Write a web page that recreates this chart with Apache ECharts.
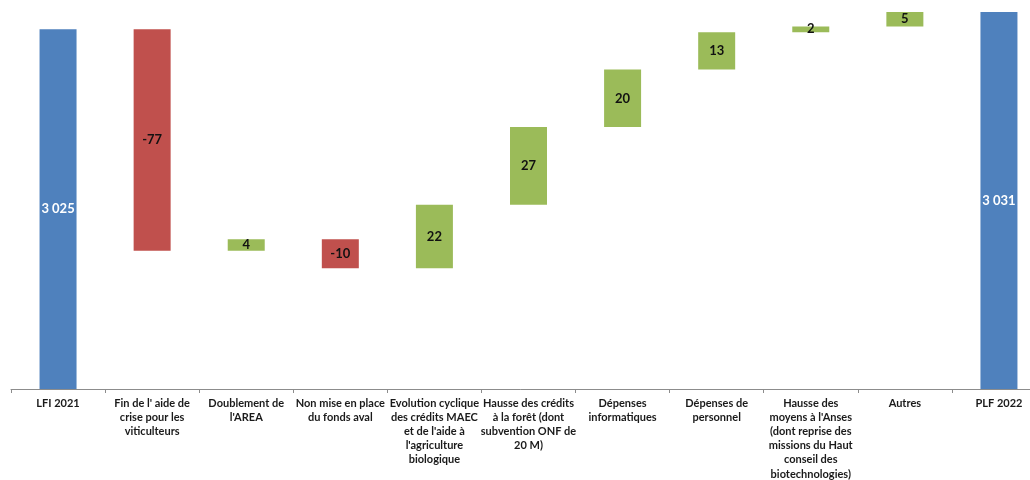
<!DOCTYPE html>
<html>
<head>
<meta charset="utf-8">
<script src="https://cdn.jsdelivr.net/npm/echarts@6/dist/echarts.min.js"></script>
<style>
html,body{margin:0;padding:0;background:#fff;}
#chart{width:1030px;height:480px;}
</style>
</head>
<body>
<div id="chart"></div>
<script>
var categories = [
  "LFI 2021",
  "Fin de l' aide de\ncrise pour les\nviticulteurs",
  "Doublement de\nl'AREA",
  "Non mise en place\ndu fonds aval",
  "Evolution cyclique\ndes crédits MAEC\net de l'aide à\nl'agriculture\nbiologique",
  "Hausse des crédits\nà la forêt (dont\nsubvention ONF de\n20 M)",
  "Dépenses\ninformatiques",
  "Dépenses de\npersonnel",
  "Hausse des\nmoyens à l'Anses\n(dont reprise des\nmissions du Haut\nconseil des\nbiotechnologies)",
  "Autres",
  "PLF 2022"
];
var startTotal = 3025;
var endTotal = 3031;
var deltas = [-77, 4, -10, 22, 27, 20, 13, 2, 5];
var axisMin = 2900;
var axisMax = 3031;

var BLUE = '#4F81BD', RED = '#C0504D', GREEN = '#9BBB59';

function fmt(v) {
  var s = String(Math.abs(v));
  s = s.replace(/\B(?=(\d{3})+(?!\d))/g, ' ');
  return (v < 0 ? '-' : '') + s;
}

var baseData = [0];
var visData = [{value: startTotal, label: fmt(startTotal), itemStyle: {color: BLUE}, lab: {color: '#fff'}}];
var cum = startTotal;
deltas.forEach(function (d) {
  var next = cum + d;
  baseData.push(Math.min(cum, next));
  visData.push({value: Math.abs(d), label: fmt(d), itemStyle: {color: d < 0 ? RED : GREEN}, lab: {color: '#111'}});
  cum = next;
});
baseData.push(0);
visData.push({value: endTotal, label: fmt(endTotal), itemStyle: {color: BLUE}, lab: {color: '#fff'}});

var seriesVis = visData.map(function (o) {
  return {
    value: o.value,
    itemStyle: o.itemStyle,
    label: {show: true, position: 'inside', formatter: o.label, color: o.lab.color,
            fontFamily: 'Lato', fontWeight: 'bold', fontSize: 13}
  };
});

var chart = echarts.init(document.getElementById('chart'), null, {renderer: 'canvas'});
chart.setOption({
  animation: false,
  backgroundColor: '#fff',
  grid: {left: 11, top: 12, width: 1035, bottom: 91, containLabel: false, outerBoundsMode: 'none'},
  xAxis: {
    type: 'category',
    data: categories,
    axisLine: {lineStyle: {color: '#8c8c8c', width: 1}},
    axisTick: {show: true, length: 4, lineStyle: {color: '#8c8c8c'}},
    axisLabel: {
      interval: 0, margin: 7, color: '#1a1a1a', fontFamily: 'Lato',
      fontWeight: 'bold', fontSize: 11, lineHeight: 14.2, align: 'center',
      hideOverlap: false
    }
  },
  yAxis: {
    type: 'value', min: axisMin, max: axisMax, show: false,
    splitLine: {show: false}
  },
  series: [
    {
      type: 'bar', stack: 'wf', data: baseData, barWidth: 37,
      itemStyle: {color: 'transparent'}, silent: true
    },
    {
      type: 'bar', stack: 'wf', data: seriesVis, barWidth: 37
    }
  ]
});
</script>
</body>
</html>
